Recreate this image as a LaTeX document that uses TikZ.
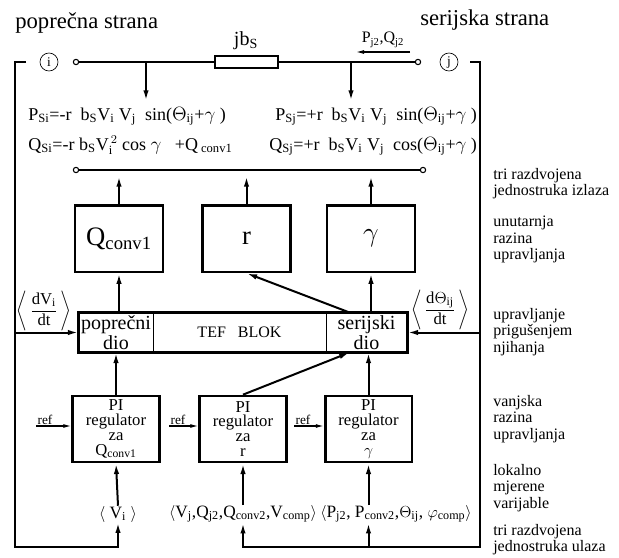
\documentclass[tikz,border=0pt]{standalone}
\usepackage{fontspec}
\setmainfont{Liberation Serif}
\usetikzlibrary{arrows.meta, positioning}
\newcommand{\indx}[1]{$_{\mathrm{#1}}$}

\begin{document}
\begin{tikzpicture}[x=0.75pt, y=-0.75pt,
        vod/.style={line width=1.5pt},
        strelica/.style={line width=1.5pt, -{Latex[length=8pt, width=4pt]}},
        tanka/.style={line width=0.9pt, -{Latex[length=6pt, width=3pt]}},
        blok/.style={rectangle, draw, line width=2pt, minimum width=66pt, minimum height=50pt,
                     inner sep=0pt, font=\fontsize{20}{22}\selectfont},
        pireg/.style={rectangle, draw, line width=2pt, minimum width=65pt, minimum height=49.5pt,
                      inner sep=0pt, align=center, font=\fontsize{12.5}{11.2}\selectfont},
        dio/.style={rectangle, draw, line width=0.6pt, minimum height=29.25pt, inner sep=0pt,
                    align=center, font=\fontsize{15}{13.5}\selectfont},
        cvor/.style={circle, draw, line width=0.5pt, minimum size=13.5pt, inner sep=0pt,
                     font=\fontsize{10}{10}\selectfont},
        kraj/.style={circle, draw, fill=white, line width=0.8pt, minimum size=4pt, inner sep=0pt},
        jedn/.style={anchor=base west, inner sep=0pt, font=\fontsize{13.5}{15}\selectfont},
        oznaka/.style={anchor=north west, inner sep=0pt, align=left, font=\fontsize{12}{12.4}\selectfont},
        ulaz/.style={inner sep=0pt, font=\fontsize{13}{15}\selectfont},
        refozn/.style={anchor=south west, inner sep=1pt, font=\fontsize{10}{10}\selectfont}
    ]
    \useasboundingbox (0,0) rectangle (619,558);

    % naslovi
    \node[anchor=west, inner sep=0pt, font=\fontsize{17}{20}\selectfont] (pops) at (15,23) {poprečna strana};
    \node[anchor=west, inner sep=0pt, font=\fontsize{17}{20}\selectfont] (sers) at (420,20) {serijska strana};

    % gornja sabirnica s otporom
    \node[cvor] (ci) at (49,62) {i};
    \node[cvor] (cj) at (449,62) {j};
    \node[kraj] (ti) at (76,62) {};
    \node[kraj] (tj) at (418,62) {};
    \node[rectangle, draw, fill=white, line width=1.2pt, minimum width=47pt, minimum height=9pt, inner sep=0pt] (bs) at (246.5,62) {};
    \node[font=\fontsize{15}{17}\selectfont, inner sep=0pt] (jbs) at (246,41) {jb\indx{S}};
    \draw[vod] (ti) -- (bs) -- (tj);
    \coordinate (tokA) at (410,52);
    \coordinate (tokB) at (356,52);
    \draw[tanka] (tokA) -- (tokB);
    \node[anchor=south, inner sep=1pt, font=\fontsize{12}{13}\selectfont] (pq) at (383,49) {P\indx{j2},Q\indx{j2}};

    \coordinate (gi) at (146,62);
    \coordinate (gj) at (351,62);
    \coordinate (dolje) at (0,101);
    \draw[strelica] (gi) -- (gi |- dolje);
    \draw[strelica] (gj) -- (gj |- dolje);

    % jednadzbe
    \node[jedn] (psi) at (28,120) {P\indx{Si}=-r~ b\indx{S}V\indx{i} V\indx{j}~ sin($\Theta_{\mathrm{ij}}$+$\gamma$~)};
    \node[jedn] (qsi) at (28,150) {Q\indx{Si}=-r b\indx{S}V$_{\mathrm{i}}^{\,2}$ cos $\gamma$~~ +Q\,\indx{conv1}};
    \node[jedn] (psj) at (275,120) {P\indx{Sj}=+r~ b\indx{S}V\indx{i} V\indx{j}~ sin($\Theta_{\mathrm{ij}}$+$\gamma$~)};
    \node[jedn] (qsj) at (269,150) {Q\indx{Sj}=+r~ b\indx{S}V\indx{i} V\indx{j}~ cos($\Theta_{\mathrm{ij}}$+$\gamma$~)};

    % donja sabirnica
    \node[kraj] (li) at (76,170) {};
    \node[kraj] (ri) at (423,170) {};
    \draw[vod] (li) -- (ri);

    % unutarnja razina
    \node[blok] (qc) at (119,238.5) {Q\indx{conv1}};
    \node[blok] (rb) at (246.5,238.5) {r};
    \node[blok] (gb) at (371,238.5) {$\gamma$};
    \coordinate (izlaz) at (0,176);
    \foreach \b in {qc,rb,gb}
        \draw[strelica] (\b.north) -- (\b.north |- izlaz);

    % TEF blok
    \node[dio, minimum width=55.5pt] (pop) at (116,332.5) {poprečni\\dio};
    \node[dio, minimum width=129.75pt, font=\fontsize{12}{13}\selectfont] (sred) at (239.5,332.5) {TEF~~ BLOK};
    \node[dio, minimum width=60.75pt] (ser) at (366.5,332.5) {serijski\\dio};
    \draw[line width=2pt] (pop.north west) rectangle (ser.south east);

    \draw[strelica] (qc.south |- pop.north) -- (qc.south);
    \draw[strelica] (gb.south |- ser.north) -- (gb.south);
    \draw[strelica] (ser.130) -- (rb.south);

    % vanjska razina
    \node[pireg] (piq) at (116,429) {PI\\regulator\\za\\Q\indx{conv1}};
    \node[pireg] (pir) at (243,429) {PI\\regulator\\za\\r};
    \node[pireg] (pig) at (368.5,429) {PI\\regulator\\za\\$\gamma$};

    \draw[strelica] (piq.north) -- (piq.north |- pop.south);
    \draw[strelica] (pir.north) -- (ser.230);
    \draw[strelica] (pig.north) -- (pig.north |- ser.south);

    \node[refozn] (ref1) at (36,426) {ref};
    \node[refozn] (ref2) at (169,426) {ref};
    \node[refozn] (ref3) at (294,426) {ref};
    \draw[tanka] (ref1.south west) -- (ref1.south west -| piq.west);
    \draw[tanka] (ref2.south west) -- (ref2.south west -| pir.west);
    \draw[tanka] (ref3.south west) -- (ref3.south west -| pig.west);

    % lokalno mjerene varijable
    \node[ulaz] (vil) at (118,514) {$\langle$~V\indx{i}~$\rangle$};
    \node[ulaz] (vjl) at (243,514) {$\langle$V\indx{j},Q\indx{j2},Q\indx{conv2},V\indx{comp}$\rangle$};
    \node[ulaz] (pjl) at (396,514) {$\langle$P\indx{j2}, P\indx{conv2},$\Theta_{\mathrm{ij}}$, $\varphi_{\mathrm{comp}}\rangle$};

    \draw[strelica] (vil.north) -- (piq.south);
    \draw[strelica] (vjl.north) -- (pir.south);
    \draw[strelica] (pig.south |- pjl.north) -- (pig.south);

    % povratne petlje
    \coordinate (lgore) at (26,62);
    \coordinate (ldole) at (15,547);
    \coordinate (dgore) at (470,62);
    \coordinate (ddole) at (480,547);
    \draw[strelica] (lgore) -| (ldole) -| (vil.south);
    \draw[strelica] (dgore) -| (ddole) -| (vjl.south);
    \draw[strelica] (pig.south |- ddole) -- (pig.south |- pjl.south);
    \draw[strelica] (ldole |- pop.west) -- (pop.west);
    \draw[strelica] (ddole |- ser.east) -- (ser.east);

    \node[font=\fontsize{12.5}{15}\selectfont, inner sep=0pt] (dvi) at (44,311)
        {$\displaystyle\left\langle\,\frac{\mathrm{dV_i}}{\mathrm{dt}}\,\right\rangle$};
    \node[font=\fontsize{12.5}{15}\selectfont, inner sep=0pt] (dth) at (440,310)
        {$\displaystyle\left\langle\,\frac{\mathrm{d}\Theta_{\mathrm{ij}}}{\mathrm{dt}}\,\right\rangle$};

    % opisi razina
    \node[oznaka] (o1) at (493,168) {tri razdvojena\\jednostruka izlaza};
    \node[oznaka] (o2) at (493,216) {unutarnja\\razina\\upravljanja};
    \node[oznaka] (o3) at (493,308) {upravljanje\\prigušenjem\\njihanja};
    \node[oznaka] (o4) at (493,395) {vanjska\\razina\\upravljanja};
    \node[oznaka] (o5) at (493,464) {lokalno\\mjerene\\varijable};
    \node[oznaka] (o6) at (493,524) {tri razdvojena\\jednostruka ulaza};
\end{tikzpicture}
\end{document}
